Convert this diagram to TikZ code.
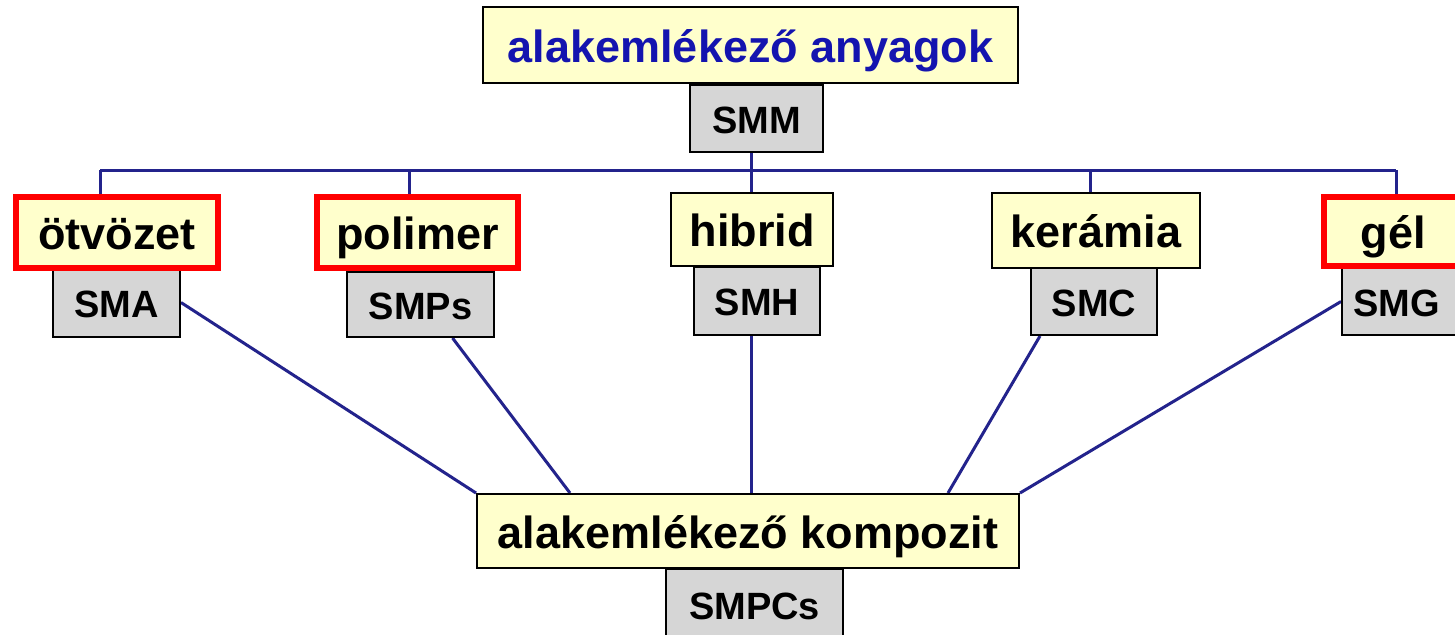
\documentclass[tikz,border=0pt]{standalone}
\usepackage{fontspec}
\setmainfont{Liberation Sans}
\usetikzlibrary{backgrounds}
\definecolor{navyline}{RGB}{35,35,140}
\definecolor{boxyellow}{RGB}{255,255,204}
\definecolor{boxgray}{RGB}{214,214,214}
\definecolor{titleblue}{RGB}{20,20,175}
\definecolor{redframe}{RGB}{255,0,0}
\tikzset{
  cat/.style={draw=black, line width=1pt, fill=boxyellow, inner sep=0pt,
    text height=21pt, text depth=4pt,
    font=\fontsize{22.5}{27}\selectfont\bfseries},
  catred/.style={cat, draw=redframe, line width=3pt},
  abbr/.style={draw=black, line width=1pt, fill=boxgray, inner sep=0pt,
    text height=17pt, text depth=2.5pt,
    font=\fontsize{19}{23}\selectfont\bfseries},
  conn/.style={draw=navyline, line width=1.5pt},
}
\begin{document}
\begin{tikzpicture}[x=0.5pt,y=-0.5pt]
\useasboundingbox (0,0) rectangle (1455,634);
\clip (0,0) rectangle (1455,634);

% top
\node[cat, text=titleblue, minimum width=267.5pt, minimum height=38pt] (top) at (750.5,45) {alakemlékező anyagok};
\node[abbr, minimum width=66.5pt, minimum height=33.5pt] (smm) at (756.5,118.5) {SMM};

% junctions
\coordinate (j) at (751,170);
\coordinate (c1) at (100,170);
\coordinate (c2) at (409,170);
\coordinate (c4) at (1090,170);
\coordinate (c5) at (1396,170);

% abbreviation boxes (under categories)
\node[abbr, minimum width=63.5pt, minimum height=34.5pt] (sma) at (116.5,302.5) {SMA};
\node[abbr, minimum width=73.5pt, minimum height=32.5pt] (smps) at (420.5,304.5) {SMPs};
\node[abbr, minimum width=63pt, minimum height=34pt] (smh) at (757,301) {SMH};
\node[abbr, minimum width=63pt, minimum height=33.5pt] (smc) at (1094,301.5) {SMC};
\node[abbr, minimum width=64.5pt, minimum height=33.5pt, anchor=west] (smg) at (1341,301.5) {\hspace*{-10pt}SMG};

% category boxes
\node[catred, minimum width=101pt, minimum height=35.5pt] (otv) at (117,232.5) {ötvözet};
\node[catred, minimum width=100.5pt, minimum height=35.5pt] (pol) at (417.5,232.5) {polimer};
\node[cat, minimum width=81pt, minimum height=36.5pt] (hib) at (752,229.5) {hibrid};
\node[cat, minimum width=104pt, minimum height=37.5pt] (ker) at (1096,230.5) {kerámia};
\node[catred, minimum width=72pt, minimum height=34.5pt, anchor=west] (gel) at (1321,231.5) {\hspace*{-3pt}gél};

% composite
\node[cat, minimum width=271pt, minimum height=37pt] (comp) at (748,531) {alakemlékező kompozit};
\node[abbr, minimum width=88.5pt, minimum height=36pt, anchor=north] (smpc) at (754.5,568) {SMPCs};

\begin{scope}[on background layer]
  \fill[white] (0,0) rectangle (1455,634);
  \draw[conn] (top.south -| j) -- (j);
  \draw[conn] (c1) -- (c5);
  \draw[conn] (c1) -- (c1 |- otv.north);
  \draw[conn] (c2) -- (c2 |- pol.north);
  \draw[conn] (j) -- (j |- hib.north);
  \draw[conn] (c4) -- (c4 |- ker.north);
  \draw[conn] (c5) -- (c5 |- gel.north);
  \draw[conn] (sma.east) -- (comp.north west);
  \draw[conn] ([xshift=16pt]smps.south) -- ([xshift=-89pt]comp.north);
  \draw[conn] (smh.south -| j) -- (comp.north -| j);
  \draw[conn] ([xshift=-27pt]smc.south) -- ([xshift=100pt]comp.north);
  \draw[conn] (smg.west) -- (comp.north east);
\end{scope}
\end{tikzpicture}
\end{document}
